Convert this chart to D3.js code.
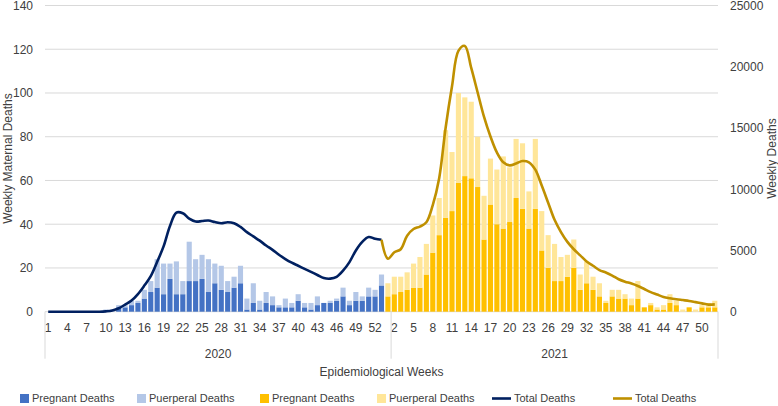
<!DOCTYPE html>
<html>
<head>
<meta charset="utf-8">
<script src="https://cdn.jsdelivr.net/npm/d3@7"></script>
<style>
  body { margin: 0; background: #fff; }
  svg text { font-family: "Liberation Sans", Arial, sans-serif; fill: #404040; }
</style>
</head>
<body>
<div id="chart"></div>
<script>
// 資料：2020 有 53 週，2021 有 52 週
const weeks2020 = d3.range(1, 54)
const weeks2021 = d3.range(1, 53)

// 2020 孕期 / 產褥期死亡
const pregnant2020 = [0,0,0,0,0,0,0,0,0,0, 0,2,2,3,4,6,9,11,8,15, 8,8,14,14,15,9,13,10,9,11,
                      13,1,4,1,4,3,2,2,2,5, 2,1,3,4,4,5,7,3,5,5, 7,7,12]
const puerperal2020 = [0,0,0,0,0,0,0,0,0,1, 1,1,1,2,1,4,5,13,14,7, 15,6,18,10,11,15,9,11,5,5,
                       8,5,9,4,5,4,1,4,2,3, 2,3,4,0,1,1,4,2,4,2, 4,3,5]
// 2021 孕期 / 產褥期死亡
const pregnant2021 = [7,8,9,10,11,11,17,27,35,43, 46,59,62,61,57,33,49,40,38,41,
                      52,47,38,47,28,20,14,14,16,20, 10,13,10,7,4,7,6,6,3,6,
                      2,3,1,1,4,3,0,2,0,2, 2,2]
const puerperal2021 = [6,8,7,8,11,14,14,17,17,40, 27,41,36,35,23,20,21,25,33,25,
                       27,30,17,32,18,15,17,11,10,13, 7,10,6,6,1,3,4,2,3,8,
                       0,1,1,2,4,2,1,0,1,1, 2,3]
// 每週總死亡（右軸）
const total2020 = [0,0,0,0,0,0,0,0,0,30, 100,280,580,910,1440,2130,2900,4070,5330,7000,
                   8090,8040,7600,7360,7400,7440,7320,7220,7300,7220, 6920,6500,6150,5800,5400,5050,4650,4300,4000,3750,
                   3500,3250,3000,2750,2700,2850,3350,4050,5000,5700, 6100,5950,5880]
const total2021 = [4330,4850,5100,6200,6750,6950,7300,8700,10900,15000,
                   18400,21300,21700,19900,17900,15900,14300,13000,12200,11950,
                   12100,12300,12200,11600,10300,8900,7500,6500,5700,5100,
                   4600,4100,3750,3400,3200,2950,2650,2450,2300,2100,
                   1850,1600,1400,1200,1100,1020,950,880,780,680, 580,600]

const leftTicks = [0,20,40,60,80,100,120,140]
const rightTicks = [0,5000,10000,15000,20000,25000]

const colors = {
  preg20: '#4472C4', puer20: '#B4C7E7',
  preg21: '#FFC000', puer21: '#FFE699',
  line20: '#002060', line21: '#BF9000'
}

drawChart()

function drawChart(){
  const width = 778, height = 406
  const left = 45, right = 718, top = 5.5, bottom = 311.7

  const svg = d3.select('#chart')
                .append('svg')
                .attr('width', width)
                .attr('height', height)

  // 把兩年的週次接成一條類別軸
  const cats = weeks2020.map((w, i) => ({ year: 2020, week: w, preg: pregnant2020[i], puer: puerperal2020[i] }))
      .concat(weeks2021.map((w, i) => ({ year: 2021, week: w, preg: pregnant2021[i], puer: puerperal2021[i] })))
  cats.forEach((d, i) => d.idx = i)

  const xScale = d3.scaleBand()
                   .domain(cats.map(d => d.idx))
                   .range([left, right])
                   .paddingInner(0.2)
                   .paddingOuter(0.1)
  const bw = xScale.step()
  const cx = i => xScale(i) + xScale.bandwidth() / 2

  const yLeft = d3.scaleLinear().domain([0, 140]).range([bottom, top])
  const yRight = d3.scaleLinear().domain([0, 25000]).range([bottom, top])

  // 格線
  svg.append('g')
     .selectAll('line')
     .data(leftTicks)
     .join('line')
     .attr('x1', left).attr('x2', right)
     .attr('y1', d => yLeft(d)).attr('y2', d => yLeft(d))
     .attr('stroke', '#d9d9d9')
     .attr('stroke-width', 1)

  // 左軸
  const yAxisL = d3.axisLeft(yLeft).tickValues(leftTicks).tickSize(0).tickPadding(12)
  const gL = svg.append('g').attr('transform', `translate(${left},0)`).call(yAxisL)
  gL.select('.domain').remove()
  gL.selectAll('text').style('font-size', '12px')

  // 右軸（不加千分位）
  const yAxisR = d3.axisRight(yRight).tickValues(rightTicks).tickSize(0).tickPadding(12)
                   .tickFormat(d3.format('d'))
  const gR = svg.append('g').attr('transform', `translate(${right},0)`).call(yAxisR)
  gR.select('.domain').remove()
  gR.selectAll('text').style('font-size', '12px')

  // 堆疊長條
  const barG = svg.append('g')
  barG.selectAll('.preg')
      .data(cats)
      .join('rect')
      .attr('class', 'preg')
      .attr('x', d => xScale(d.idx))
      .attr('width', xScale.bandwidth())
      .attr('y', d => yLeft(d.preg))
      .attr('height', d => yLeft(0) - yLeft(d.preg))
      .attr('fill', d => d.year === 2020 ? colors.preg20 : colors.preg21)
  barG.selectAll('.puer')
      .data(cats)
      .join('rect')
      .attr('class', 'puer')
      .attr('x', d => xScale(d.idx))
      .attr('width', xScale.bandwidth())
      .attr('y', d => yLeft(d.preg + d.puer))
      .attr('height', d => yLeft(d.preg) - yLeft(d.preg + d.puer))
      .attr('fill', d => d.year === 2020 ? colors.puer20 : colors.puer21)

  // 總死亡折線（平滑）
  const line = d3.line()
                 .x(d => cx(d.idx))
                 .y(d => yRight(d.v))
                 .curve(d3.curveCatmullRom.alpha(0.5))
  const data20 = total2020.map((v, i) => ({ idx: i, v: v }))
  const data21 = [{ idx: 52, v: total2020[52] }]
                 .concat(total2021.map((v, i) => ({ idx: 53 + i, v: v })))

  svg.append('path')
     .datum(data20)
     .attr('fill', 'none')
     .attr('stroke', colors.line20)
     .attr('stroke-width', 2.6)
     .attr('stroke-linejoin', 'round')
     .attr('d', line)
  svg.append('path')
     .datum(data21)
     .attr('fill', 'none')
     .attr('stroke', colors.line21)
     .attr('stroke-width', 2.6)
     .attr('stroke-linejoin', 'round')
     .attr('d', line)

  // X 軸週次標籤（每 3 週一個）
  svg.append('g')
     .selectAll('text')
     .data(cats.filter(d => d.idx % 3 === 0))
     .join('text')
     .attr('x', d => cx(d.idx))
     .attr('y', bottom + 20)
     .attr('text-anchor', 'middle')
     .style('font-size', '12px')
     .text(d => d.week)

  // 年份分隔線
  const divX = [left, xScale(54) - (bw - xScale.bandwidth()) / 2, right]
  svg.append('g')
     .selectAll('line')
     .data(divX)
     .join('line')
     .attr('x1', d => d).attr('x2', d => d)
     .attr('y1', bottom).attr('y2', bottom + 47)
     .attr('stroke', '#d9d9d9')

  // 年份
  const years = [
    { label: '2020', x: (left + divX[1]) / 2 },
    { label: '2021', x: (divX[1] + right) / 2 }
  ]
  svg.append('g')
     .selectAll('text')
     .data(years)
     .join('text')
     .attr('x', d => d.x)
     .attr('y', bottom + 46)
     .attr('text-anchor', 'middle')
     .style('font-size', '12px')
     .text(d => d.label)

  // 軸標題
  svg.append('text')
     .attr('x', (left + right) / 2)
     .attr('y', 376)
     .attr('text-anchor', 'middle')
     .style('font-size', '12px')
     .text('Epidemiological Weeks')
  svg.append('text')
     .attr('transform', `translate(12,${(top + bottom) / 2}) rotate(-90)`)
     .attr('text-anchor', 'middle')
     .style('font-size', '12px')
     .text('Weekly Maternal Deaths')
  svg.append('text')
     .attr('transform', `translate(776,${(top + bottom) / 2}) rotate(-90)`)
     .attr('text-anchor', 'middle')
     .style('font-size', '12px')
     .text('Weekly Deaths')

  // 圖例
  const legend = [
    { label: 'Pregnant Deaths', color: colors.preg20, type: 'box', x: 20 },
    { label: 'Puerperal Deaths', color: colors.puer20, type: 'box', x: 137 },
    { label: 'Pregnant Deaths', color: colors.preg21, type: 'box', x: 260 },
    { label: 'Puerperal Deaths', color: colors.puer21, type: 'box', x: 377 },
    { label: 'Total Deaths', color: colors.line20, type: 'line', x: 492 },
    { label: 'Total Deaths', color: colors.line21, type: 'line', x: 613 }
  ]
  const lg = svg.append('g')
                .selectAll('g')
                .data(legend)
                .join('g')
                .attr('transform', d => `translate(${d.x},402)`)
  lg.filter(d => d.type === 'box')
    .append('rect')
    .attr('x', 0).attr('y', -8)
    .attr('width', 9).attr('height', 9)
    .attr('fill', d => d.color)
  lg.filter(d => d.type === 'line')
    .append('line')
    .attr('x1', 0).attr('x2', 19)
    .attr('y1', -3.5).attr('y2', -3.5)
    .attr('stroke', d => d.color)
    .attr('stroke-width', 2.6)
  lg.append('text')
    .attr('x', d => d.type === 'box' ? 12 : 22)
    .attr('y', 0)
    .style('font-size', '11px')
    .text(d => d.label)
}
</script>
</body>
</html>
